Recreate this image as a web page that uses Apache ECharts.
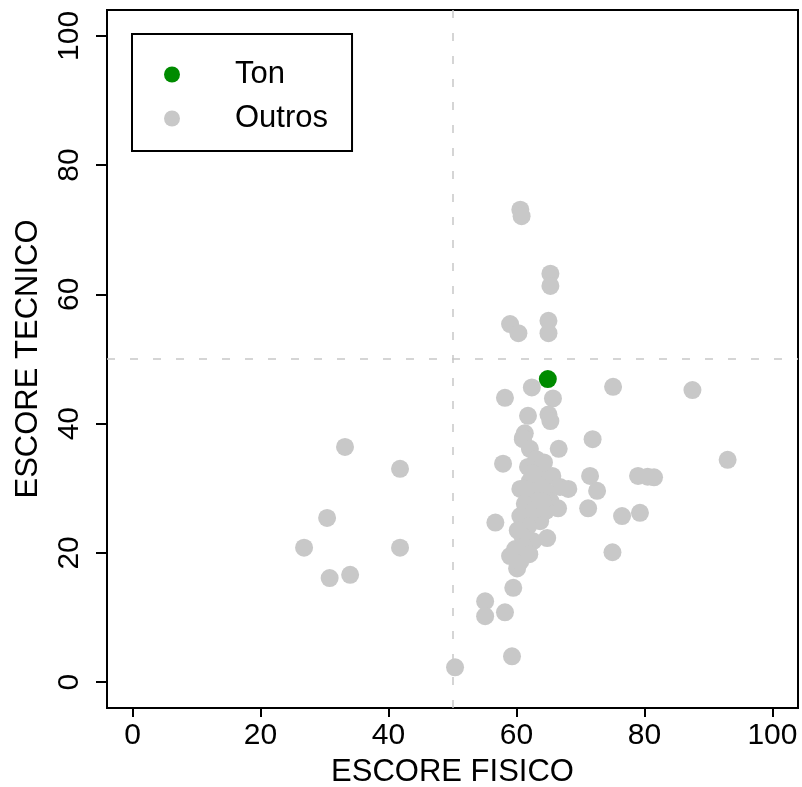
<!DOCTYPE html>
<html>
<head>
<meta charset="utf-8">
<script src="https://cdn.jsdelivr.net/npm/echarts@6/dist/echarts.min.js"></script>
<style>
  html, body { margin: 0; padding: 0; background: #ffffff; }
  #chart { width: 802px; height: 787px; }
</style>
</head>
<body>
<div id="chart"></div>
<script>
// [escore fisico, escore tecnico]
const tonPoint = [[64.9, 46.9]];
const outrosPoints = [
  [50.4, 2.3], [59.3, 4.0], [26.8, 20.8], [30.4, 25.4], [30.8, 16.1], [34.0, 16.6],
  [33.2, 36.4], [41.8, 33.0], [41.8, 20.8],
  [60.6, 73.1], [60.8, 72.1], [65.3, 63.2], [65.3, 61.3], [65.0, 55.9], [65.0, 54.0],
  [59.0, 55.4], [60.3, 54.0],
  [58.2, 44.0], [62.4, 45.6], [65.7, 43.9], [75.1, 45.7], [87.5, 45.2],
  [61.8, 41.2], [65.0, 41.4], [65.3, 40.4], [61.3, 38.5], [61.0, 37.6], [71.9, 37.6],
  [66.6, 36.1], [57.9, 33.8], [71.5, 31.9], [72.6, 29.6], [93.0, 34.4],
  [79.0, 31.9], [80.5, 31.8], [81.5, 31.7], [71.2, 26.9], [76.5, 25.7], [79.3, 26.2],
  [56.7, 24.7], [64.8, 22.3], [75.0, 20.1], [60.1, 17.6], [59.5, 14.6],
  [55.1, 12.5], [55.1, 10.2], [58.2, 10.8],
  [61.0, 37.8], [62.1, 36.1], [63.1, 34.5], [61.8, 33.3], [63.7, 32.7], [65.6, 31.9],
  [66.8, 30.2], [68.1, 29.9], [62.1, 31.1], [60.6, 29.9], [64.5, 29.6], [62.9, 28.5],
  [61.3, 27.6], [65.3, 28.0], [66.5, 26.9], [62.1, 26.2], [60.6, 25.7], [63.7, 24.9],
  [61.8, 24.1], [60.9, 22.6], [62.6, 21.8], [59.8, 20.6], [59.0, 19.5], [60.6, 18.7],
  [64.6, 26.5], [63.5, 30.5], [61.5, 30.0], [63.0, 26.8], [64.0, 28.0], [61.0, 21.0],
  [62.0, 19.8], [60.2, 23.5], [64.3, 34.0], [62.5, 32.3]
];
const tickValues = [0, 20, 40, 60, 80, 100];
const refX = 50;
const refY = 50;

const font = 'Liberation Sans';
const chart = echarts.init(document.getElementById('chart'));

chart.setOption({
  animation: false,
  textStyle: { fontFamily: font },
  grid: {
    left: 107, right: 4, top: 10, bottom: 79,
    outerBoundsMode: 'none',
    containLabel: false,
    show: true,
    borderColor: '#000',
    borderWidth: 2,
    backgroundColor: 'transparent'
  },
  legend: {
    data: ['Ton', 'Outros'],
    orient: 'vertical',
    left: 132,
    top: 34,
    icon: 'circle',
    itemWidth: 16,
    itemHeight: 16,
    itemGap: 13,
    padding: [25, 24, 17, 32],
    borderColor: '#000',
    borderWidth: 2,
    textStyle: {
      fontFamily: font,
      fontSize: 31,
      color: '#000',
      lineHeight: 26,
      padding: [0, 0, 0, 50]
    }
  },
  xAxis: {
    type: 'value',
    min: -4,
    max: 104,
    name: 'ESCORE FISICO',
    nameLocation: 'middle',
    nameGap: 49,
    nameTextStyle: { fontFamily: font, fontSize: 31, color: '#000' },
    axisLine: { show: false, onZero: false },
    axisTick: {
      show: true,
      length: 9,
      customValues: tickValues,
      lineStyle: { color: '#000', width: 2 }
    },
    axisLabel: {
      customValues: tickValues,
      fontFamily: font,
      fontSize: 30,
      color: '#000',
      margin: 13
    },
    splitLine: { show: false }
  },
  yAxis: {
    type: 'value',
    min: -4,
    max: 104,
    name: 'ESCORE TECNICO',
    nameLocation: 'middle',
    nameRotate: 90,
    nameGap: 63,
    nameTextStyle: { fontFamily: font, fontSize: 31, color: '#000' },
    axisLine: { show: false, onZero: false },
    axisTick: {
      show: true,
      length: 11,
      customValues: tickValues,
      lineStyle: { color: '#000', width: 2 }
    },
    axisLabel: {
      customValues: tickValues,
      rotate: 90,
      fontFamily: font,
      fontSize: 30,
      color: '#000',
      margin: 22
    },
    splitLine: { show: false }
  },
  series: [
    {
      name: 'Outros',
      type: 'scatter',
      symbol: 'circle',
      symbolSize: 18,
      itemStyle: { color: '#c8c8c8', opacity: 1 },
      data: outrosPoints,
      markLine: {
        silent: true,
        symbol: 'none',
        label: { show: false },
        lineStyle: { color: '#c8c8c8', type: [8, 15], width: 1.5 },
        data: [{ xAxis: refX }, { yAxis: refY }]
      },
      z: 2
    },
    {
      name: 'Ton',
      type: 'scatter',
      symbol: 'circle',
      symbolSize: 18,
      itemStyle: { color: '#008b00', opacity: 1 },
      data: tonPoint,
      z: 3
    }
  ]
});
</script>
</body>
</html>
